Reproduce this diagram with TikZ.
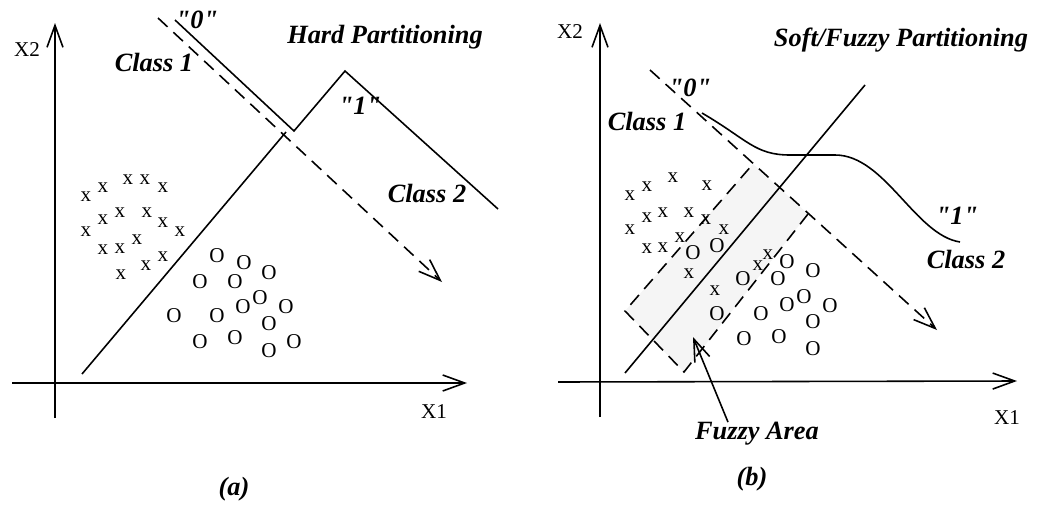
\documentclass[tikz,border=0pt]{standalone}
\usepackage{fontspec}
\setmainfont{Liberation Serif}[Ligatures=TeXOff]
\usetikzlibrary{arrows.meta}
\begin{document}
\begin{tikzpicture}[x=0.02cm, y=-0.02cm, every node/.style={inner sep=0pt},
    lbl/.style={font=\fontsize{15}{17}\selectfont\bfseries\itshape},
    axlbl/.style={font=\fontsize{12}{14}\selectfont},
    xpt/.style={font=\fontsize{12}{13}\selectfont},
    opt/.style={font=\fontsize{12}{13}\selectfont},
    ln/.style={line width=0.9pt},
    tip/.style={-{Straight Barb[length=4.4mm,width=3.2mm,line width=0.9pt]}},
    axis/.style={ln,tip},
    dsh/.style={ln,dash pattern=on 0.26cm off 0.16cm}]
  \useasboundingbox (0,0) rectangle (1041,504);
  % (a) axes
  \coordinate (ax0) at (12,383);  \coordinate (ax1) at (467,383);
  \coordinate (ay0) at (55,418);  \coordinate (ay1) at (55,23);
  \draw[axis] (ax0) -- (ax1);
  \draw[axis] (ay0) -- (ay1);
  \node[axlbl] (ax) at (434,412) {X1};
  \node[axlbl] (ay) at (27,50) {X2};
  % (a) hard boundaries
  \draw[ln] (175,20) -- (294,131) -- (345,71) -- (498,209);
  \draw[ln] (82,374) -- (286,132);
  \coordinate (ad0) at (158,18);  \coordinate (ad1) at (442,282);
  \draw[dsh,tip] (ad0) -- (ad1);
  % (a) labels
  \node[lbl] (aq0) at (197,20) {"0"};
  \node[lbl] (aq1) at (360,106) {"1"};
  \node[lbl] (ahard) at (385,37) {Hard Partitioning};
  \node[lbl] (ac1) at (154,62) {Class 1};
  \node[lbl] (ac2) at (427,193) {Class 2};
  \node[lbl] (acap) at (234,489) {(a)};
  % (a) samples
  \foreach \p [count=\i] in {(86,197),(103,188),(128,180),(145,180),(163,188),
      (86,232),(103,220),(120,213),(147,213),(163,223),(180,232),
      (103,250),(120,249),(137,240),(163,257),(146,266),(121,275)}
    \node[xpt] (xa\i) at \p {x};
  \foreach \p [count=\i] in {(217,256),(244,263),(269,273),(200,282),(235,282),
      (260,298),(243,307),(286,307),(174,316),(217,316),(269,324),
      (200,342),(235,338),(294,342),(269,351)}
    \node[opt] (oa\i) at \p {O};

  % (b) fuzzy area
  \fill[black!4] (753,164) -- (808,214) -- (684,372) -- (625,311) -- cycle;
  \draw[dsh] (808,214) -- (684,372) -- (625,311) -- (753,164);
  % (b) axes
  \coordinate (bx0) at (558,382);  \coordinate (bx1) at (1017,381);
  \coordinate (by0) at (600,417);  \coordinate (by1) at (600,23);
  \draw[axis] (bx0) -- (bx1);
  \draw[axis] (by0) -- (by1);
  \node[axlbl] (bx) at (1007,418) {X1};
  \node[axlbl] (by) at (570,32) {X2};
  % (b) soft boundaries
  \draw[ln] (625,373) -- (865,85);
  \draw[ln] (702,113) .. controls (748,140) and (755,155) .. (790,155)
    -- (835,155) .. controls (885,155) and (915,235) .. (960,242);
  \coordinate (bd0) at (650,70);  \coordinate (bd1) at (937,330);
  \draw[dsh,tip] (bd0) -- (bd1);
  % (b) labels
  \node[lbl] (bq0) at (690,88) {"0"};
  \node[lbl] (bq1) at (957,216) {"1"};
  \node[lbl] (bsoft) at (901,40) {Soft/Fuzzy Partitioning};
  \node[lbl] (bc1) at (647,121) {Class 1};
  \node[lbl] (bc2) at (966,259) {Class 2};
  \node[lbl] (bfz) at (757,434) {Fuzzy Area};
  \node[lbl] (bcap) at (752,479) {(b)};
  \coordinate (bfzt) at (693,337);
  \draw[ln,tip] (bfz.north -| 728,0) -- (bfzt);
  % (b) samples
  \foreach \p [count=\i] in {(630,196),(647,187),(673,178),(707,186),
      (630,230),(647,218),(663,213),(689,213),(706,220),(724,230),
      (647,249),(663,248),(680,238),(689,274),(715,291),(758,266),(768,255)}
    \node[xpt] (xb\i) at \p {x};
  \foreach \p [count=\i] in {(693,253),(717,246),(743,279),(778,279),(787,262),
      (813,271),(717,314),(761,314),(787,305),(804,297),(830,306),
      (813,322),(744,339),(779,337),(813,349)}
    \node[opt] (ob\i) at \p {O};
\end{tikzpicture}
\end{document}
